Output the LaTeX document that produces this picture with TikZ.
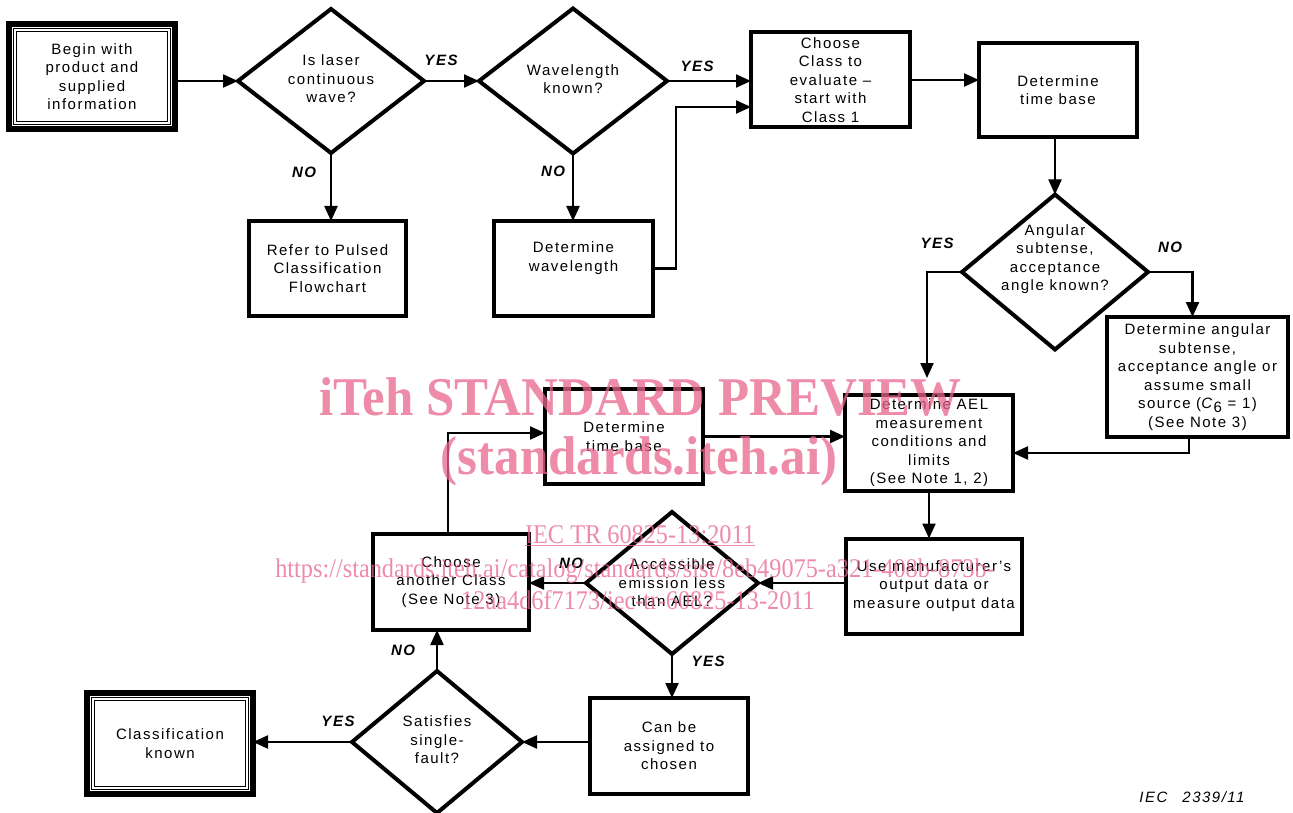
\documentclass[tikz,border=0pt]{standalone}
\usepackage{fontspec}
\setmainfont{Liberation Sans}[LetterSpace=10]
\newfontfamily\wmfont{Liberation Serif}
\usetikzlibrary{shapes.geometric,arrows.meta,calc}
\definecolor{wmpink}{RGB}{232,101,141}
\newcommand\dfont{\fontsize{15}{18.5}\selectfont}
\newcommand\lfont{\fontsize{15}{18}\selectfont\bfseries\itshape}
\begin{document}
\begin{tikzpicture}[x=1pt,y=-1pt,
  box/.style={draw, rectangle, line width=4pt, outer sep=0pt, inner sep=0pt, align=center, font=\dfont},
  sbox/.style={draw, rectangle, line width=6pt, outer sep=0pt, inner sep=0pt, align=center, font=\dfont},
  dia/.style={draw, diamond, line width=4pt, outer sep=0pt, inner sep=0pt},
  dtext/.style={align=center, font=\dfont, inner sep=0pt},
  lab/.style={font=\lfont, inner sep=0pt},
  arr/.style={line width=2.2pt, -{Triangle[length=15pt,width=13pt]}},
  dbl/.style={line width=1pt, double, double distance=2.4pt},
  wm/.style={text=wmpink, text opacity=0.75, inner sep=0pt, anchor=base}
]
\fill[white] (0,0) rectangle (1293,813);
\useasboundingbox (0,0) rectangle (1293,813);

% ---- top row
\node[sbox, minimum width=166pt, minimum height=105pt] (begin) at (92,76.5) {Begin with\\product and\\supplied\\information};
\draw[dbl] ($(begin.north west)+(6,6)$) rectangle ($(begin.south east)+(-6,-6)$);

\node[dia, minimum width=186pt, minimum height=144pt] (d1) at (331,81) {};
\node[dtext] (t1) at (331,79) {Is laser\\continuous\\wave?};

\node[dia, minimum width=188pt, minimum height=145pt] (d2) at (573,81) {};
\node[dtext] (t2) at (573,79) {Wavelength\\known?};

\node[box, minimum width=159pt, minimum height=95pt] (choose) at (830.5,80) {Choose\\Class to\\evaluate –\\start with\\Class 1};

\node[box, minimum width=158pt, minimum height=94pt] (tb1) at (1058,90) {Determine\\time base};

\node[box, minimum width=157pt, minimum height=95pt] (refer) at (327.5,268.5) {Refer to Pulsed\\Classification\\Flowchart};

\node[box, minimum width=159pt, minimum height=95pt] (dw) at (573.5,268.5) {};
\node[dtext] (dwt) at (573.5,258) {Determine\\wavelength};

\node[dia, minimum width=186pt, minimum height=155pt] (d3) at (1055,272) {};
\node[dtext] (t3) at (1055,259) {Angular\\subtense,\\acceptance\\angle known?};

\node[box, minimum width=181pt, minimum height=120pt] (ang) at (1197.5,377) {Determine angular\\subtense,\\acceptance angle or\\assume small\\source (\textit{C}\raisebox{-4pt}{6} = 1)\\(See Note 3)};

% ---- middle
\node[box, minimum width=168pt, minimum height=96pt] (ael) at (929,443) {Determine AEL\\measurement\\conditions and\\limits\\(See Note 1, 2)};
\node[box, minimum width=158pt, minimum height=95pt] (tb2) at (624,436.5) {Determine\\time base};
\node[box, minimum width=156pt, minimum height=96pt] (ca) at (451,582) {Choose\\another Class\\(See Note 3)};
\node[box, minimum width=176pt, minimum height=95pt] (use) at (934,586) {Use manufacturer’s\\output data or\\measure output data};

\node[dia, minimum width=172pt, minimum height=142pt] (d4) at (672,583) {};
\node[dtext] (t4) at (672,583) {Accessible\\emission less\\than AEL?};

% ---- bottom
\node[box, minimum width=158pt, minimum height=96pt] (can) at (669,746) {Can be\\assigned to\\chosen};
\node[dia, minimum width=170pt, minimum height=142pt] (d5) at (437,742) {};
\node[dtext] (t5) at (437,740) {Satisfies\\single-\\fault?};
\node[sbox, minimum width=166pt, minimum height=101pt] (cls) at (170,743.5) {Classification\\known};
\draw[dbl] ($(cls.north west)+(6,6)$) rectangle ($(cls.south east)+(-6,-6)$);

% ---- junction coordinates
\coordinate (j1) at (676,107);
\coordinate (j2) at (927,378);
\coordinate (j3) at (1189,453);
\coordinate (j4) at (448,433);

% ---- connectors
\draw[arr] (begin.east |- d1.west) -- (d1.west);
\draw[arr] (d1.east) -- (d2.west);
\draw[arr] (d2.east) -- (d2.east -| choose.west);
\draw[arr] (d1.south) -- (d1.south |- refer.north);
\draw[arr] (d2.south) -- (d2.south |- dw.north);
\draw[arr] (dw.east) -| (j1) -- (j1 -| choose.west);
\draw[arr] (choose.east) -- (choose.east -| tb1.west);
\draw[arr] (d3.north |- tb1.south) -- (d3.north);
\draw[arr] (d3.west) -| (j2);
\draw[arr] (d3.east) -| ($(ang.north)+(-5,0)$);
\draw[arr] (ang.south -| j3) -- (j3) -- (j3 -| ael.east);
\draw[arr] (tb2.east) -- (tb2.east -| ael.west);
\draw[arr] (ca.north -| j4) -- (j4) -- (j4 -| tb2.west);
\draw[arr] (ael.south) -- (ael.south |- use.north);
\draw[arr] (use.west |- d4.east) -- (d4.east);
\draw[arr] (d4.west) -- (d4.west -| ca.east);
\draw[arr] (d4.south) -- (d4.south |- can.north);
\draw[arr] (can.west |- d5.east) -- (d5.east);
\draw[arr] (d5.north) -- (d5.north |- ca.south);
\draw[arr] (d5.west) -- (d5.west -| cls.east);

% ---- branch labels
\node[lab] (l1) at (441,60) {YES};
\node[lab] (l2) at (304,172) {NO};
\node[lab] (l3) at (697,66) {YES};
\node[lab] (l4) at (553,171) {NO};
\node[lab] (l5) at (937,243) {YES};
\node[lab] (l6) at (1170,247) {NO};
\node[lab] (l7) at (571,563) {NO};
\node[lab] (l8) at (708,661) {YES};
\node[lab] (l9) at (403,650) {NO};
\node[lab] (l10) at (338,721) {YES};

\node[font={\fontsize{15}{18}\selectfont\itshape}, inner sep=0pt] (iec) at (1192,797) {IEC\hspace{15pt}2339/11};

% ---- watermark
\node[wm, font={\wmfont\bfseries\fontsize{52}{52}\selectfont}] (wm1) at (640.5,415) {\scalebox{0.98}[1.05]{iTeh STANDARD PREVIEW}};
\node[wm, font={\wmfont\bfseries\fontsize{52}{52}\selectfont}] (wm2) at (639,474) {\scalebox{0.98}[1.05]{(standards.iteh.ai)}};
\node[wm, font={\wmfont\fontsize{27}{27}\selectfont}] (wm3) at (640,543) {\scalebox{0.9}[1]{\underline{IEC TR 60825-13:2011}}};
\node[wm, font={\wmfont\fontsize{27}{27}\selectfont}] (wm4) at (635,577) {\scalebox{0.9}[1]{https://standards.iteh.ai/catalog/standards/sist/8eb49075-a321-408b-873b-}};
\node[wm, font={\wmfont\fontsize{27}{27}\selectfont}] (wm5) at (638,609) {\scalebox{0.9}[1]{12aa4d6f7173/iec-tr-60825-13-2011}};
\end{tikzpicture}
\end{document}
